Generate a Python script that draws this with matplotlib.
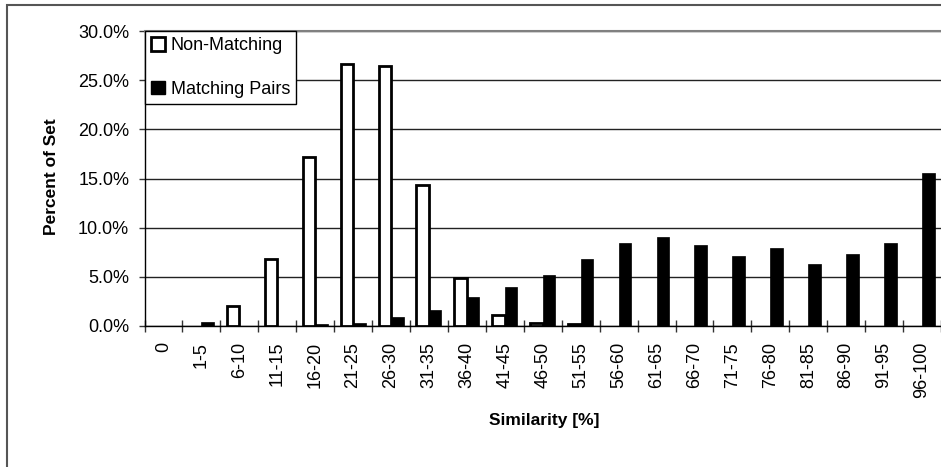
import matplotlib
matplotlib.use("Agg")
import matplotlib.pyplot as plt
import numpy as np
from matplotlib.patches import Patch, Rectangle
from matplotlib.ticker import FuncFormatter

categories = ["0", "1-5", "6-10", "11-15", "16-20", "21-25", "26-30", "31-35",
              "36-40", "41-45", "46-50", "51-55", "56-60", "61-65", "66-70",
              "71-75", "76-80", "81-85", "86-90", "91-95", "96-100"]
non_matching = [0, 0, 2.0, 6.8, 17.2, 26.6, 26.4, 14.3, 4.9, 1.15, 0.27, 0.2,
                0, 0, 0, 0, 0, 0, 0, 0, 0]
matching_pairs = [0, 0.44, 0, 0, 0.2, 0.33, 0.95, 1.6, 2.9, 3.96, 5.2, 6.8,
                  8.4, 9.1, 8.2, 7.15, 7.9, 6.27, 7.35, 8.4, 15.55]
series_names = ["Non-Matching", "Matching Pairs"]
y_ticks = [0, 5, 10, 15, 20, 25, 30]

plt.rcParams['font.family'] = ['Liberation Sans', 'DejaVu Sans']

W, H = 941, 467
fig = plt.figure(figsize=(W / 100, H / 100), dpi=100)

# figure frame (extends beyond right/bottom edges)
fig.patches.append(Rectangle((7 / W, -0.05), 1.2, 1 - 5 / H + 0.05,
                             transform=fig.transFigure, fill=False,
                             edgecolor='#555555', linewidth=1.5))

left = 144.5 / W
bottom = 1 - 326 / H
top = 1 - 31 / H
ax = fig.add_axes([left, bottom, 1 - left, top - bottom])

x = np.arange(len(categories))
cat_px = 38.08
ax.set_xlim(-0.5, -0.5 + (W - 144.5) / cat_px)
ax.set_ylim(0, 30)

bw = 0.33
nm = np.array(non_matching)
mp = np.array(matching_pairs)
ax.bar(x - bw / 2, nm, width=bw, facecolor='white', edgecolor='black',
       linewidth=np.where(nm > 0, 2.0, 0.0), zorder=3)
ax.bar(x + bw / 2, mp, width=bw, facecolor='black', edgecolor='black',
       linewidth=np.where(mp > 0, 0.5, 0.0), zorder=3)

ax.set_yticks(y_ticks)
ax.yaxis.set_major_formatter(FuncFormatter(lambda v, p: f"{v:.1f}%"))
ax.grid(axis='y', color='#222222', linewidth=1.0, zorder=0)
ax.set_axisbelow(True)

ax.set_xticks(x)
ax.set_xticklabels(categories, rotation=90, va='top', ha='center')
ax.set_xticks(np.arange(-0.5, len(categories), 1.0), minor=True)
ax.tick_params(axis='x', which='major', length=0, pad=11.5, labelsize=13)
ax.tick_params(axis='x', which='minor', direction='inout', length=8,
               width=1, color='#333333')
ax.tick_params(axis='y', which='major', direction='out', length=4,
               width=1, color='#333333', pad=7, labelsize=13)

for s in ['left', 'bottom']:
    ax.spines[s].set_color('black')
    ax.spines[s].set_linewidth(1.0)
ax.spines['top'].set_color('#808080')
ax.spines['top'].set_linewidth(1.5)
ax.spines['right'].set_visible(False)

handles = [Patch(facecolor='white', edgecolor='black', linewidth=2.0),
           Patch(facecolor='black', edgecolor='black', linewidth=1.0)]
leg = ax.legend(handles, series_names, loc='upper left',
                bbox_to_anchor=(0, 1), borderaxespad=0, fontsize=13,
                frameon=True, fancybox=False, edgecolor='black',
                framealpha=1, handlelength=0.8, handleheight=0.8,
                handletextpad=0.3, labelspacing=1.45, borderpad=0.35)
leg.get_frame().set_linewidth(1.0)
leg.set_zorder(5)

fig.text(544 / W, 1 - 420 / H, "Similarity [%]", ha='center', va='center',
         fontsize=12.5, fontweight='bold')
fig.text(52 / W, 1 - 177 / H, "Percent of Set", ha='center', va='center',
         rotation=90, fontsize=12.5, fontweight='bold')

fig.savefig("out.png", dpi=100)
